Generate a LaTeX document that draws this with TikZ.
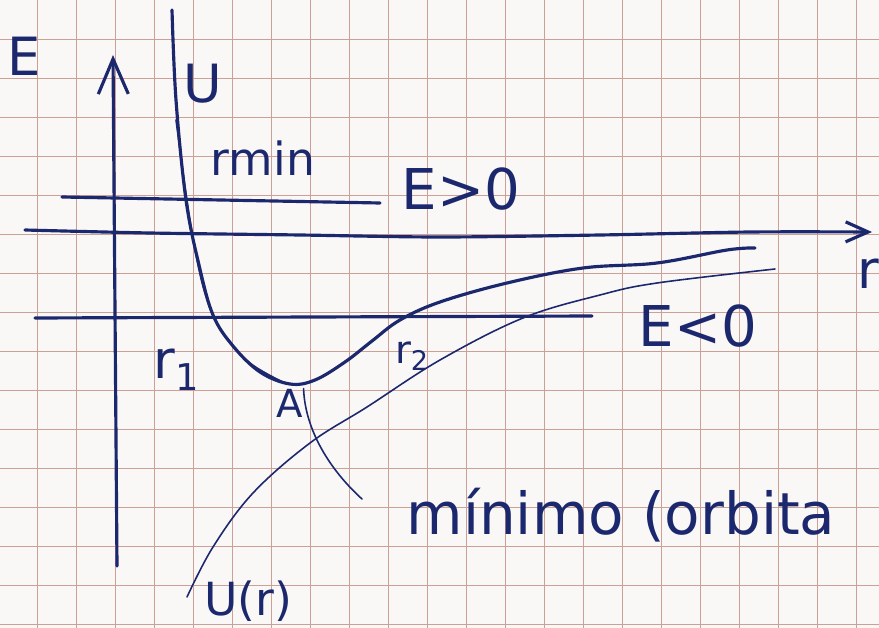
\documentclass[tikz,border=0pt]{standalone}
\usepackage{fontspec}
\setmainfont{DejaVu Sans}
\usetikzlibrary{arrows.meta}
\definecolor{ink}{RGB}{28,40,110}
\definecolor{gridc}{RGB}{205,160,150}
\definecolor{paper}{RGB}{250,248,246}
\begin{document}
\begin{tikzpicture}[x=0.02cm,y=-0.02cm,
  thickline/.style={ink,line width=1.8pt,line cap=round,line join=round},
  thinline/.style={ink,line width=0.9pt,line cap=round,line join=round},
  gridline/.style={gridc,line width=0.55pt},
  lbl/.style={text=ink,inner sep=0pt,font=\fontsize{30}{32}\selectfont},
  smalllbl/.style={text=ink,inner sep=0pt,font=\fontsize{22}{24}\selectfont}]
\fill[paper] (0,0) rectangle (879,628);
\useasboundingbox (0,0) rectangle (879,628);
% grid paper
\foreach \i in {0,...,21} \draw[gridline] ({37+39*\i},0) -- ({37+39*\i},628);
\foreach \j in {1,...,16} \draw[gridline] (0,{39*\j}) -- (879,{39*\j});
% axes
\coordinate (ybot) at (117,566);
\coordinate (ytop) at (113,55);
\draw[thickline,-{Straight Barb[length=0.7cm,width=0.6cm]}] (ybot) -- (ytop);
\draw[thickline,-{Straight Barb[length=0.45cm,width=0.4cm]}]
  plot[smooth,tension=0.5] coordinates {(25,230) (150,233) (300,235) (440,237) (600,235) (750,232) (872,232)};
% energy levels
\coordinate (epl) at (62,197);
\coordinate (epr) at (380,203);
\draw[thickline] (epl) -- (epr);
\coordinate (enl) at (35,318);
\coordinate (enr) at (592,316);
\draw[thickline] (enl) -- (enr);
% effective potential
\draw[thickline] plot[smooth,tension=0.6] coordinates {(172,10) (176,100) (186,200) (199,265) (213,315) (233,346) (260,372) (290,384) (315,380) (345,362) (372,341) (400,320) (440,302) (507,283) (583,268) (657,263) (727,250) (755,248)};
\draw[thinline] plot[smooth,tension=0.6] coordinates {(176,120) (190,220) (204,290) (222,332) (250,363) (285,383)};
% U(r)
\draw[thinline] plot[smooth,tension=0.6] coordinates {(187,597) (213,547) (253,493) (310,443) (367,407) (440,360) (523,318) (600,295) (657,283) (775,269)};
% labels
\node[lbl] (E) at (24,56) {E};
\node[lbl] (U) at (203,84) {U};
\node[lbl,font=\fontsize{26}{28}\selectfont] (rmin) at (263,158) {rmin};
\node[lbl,font=\fontsize{32}{34}\selectfont] (Epos) at (461,189) {E>0};
\node[lbl] (r) at (868,274) {r};
\node[lbl,font=\fontsize{32}{34}\selectfont] (Eneg) at (698,326) {E<0};
\node[lbl] (r1) at (177,370) {r\textsubscript{1}};
\node[smalllbl] (r2) at (412,356) {r\textsubscript{2}};
\node[smalllbl] (A) at (290,403) {A};
\node[lbl,font=\fontsize{26}{28}\selectfont] (Ur) at (248,601) {U(r)};
\node[lbl,font=\fontsize{33}{35}\selectfont] (min) at (621,515) {mínimo (orbita};
\coordinate (aend) at (362,499);
\draw[thinline] (A.north east) .. controls (305,430) and (330,470) .. (aend);
\end{tikzpicture}
\end{document}
